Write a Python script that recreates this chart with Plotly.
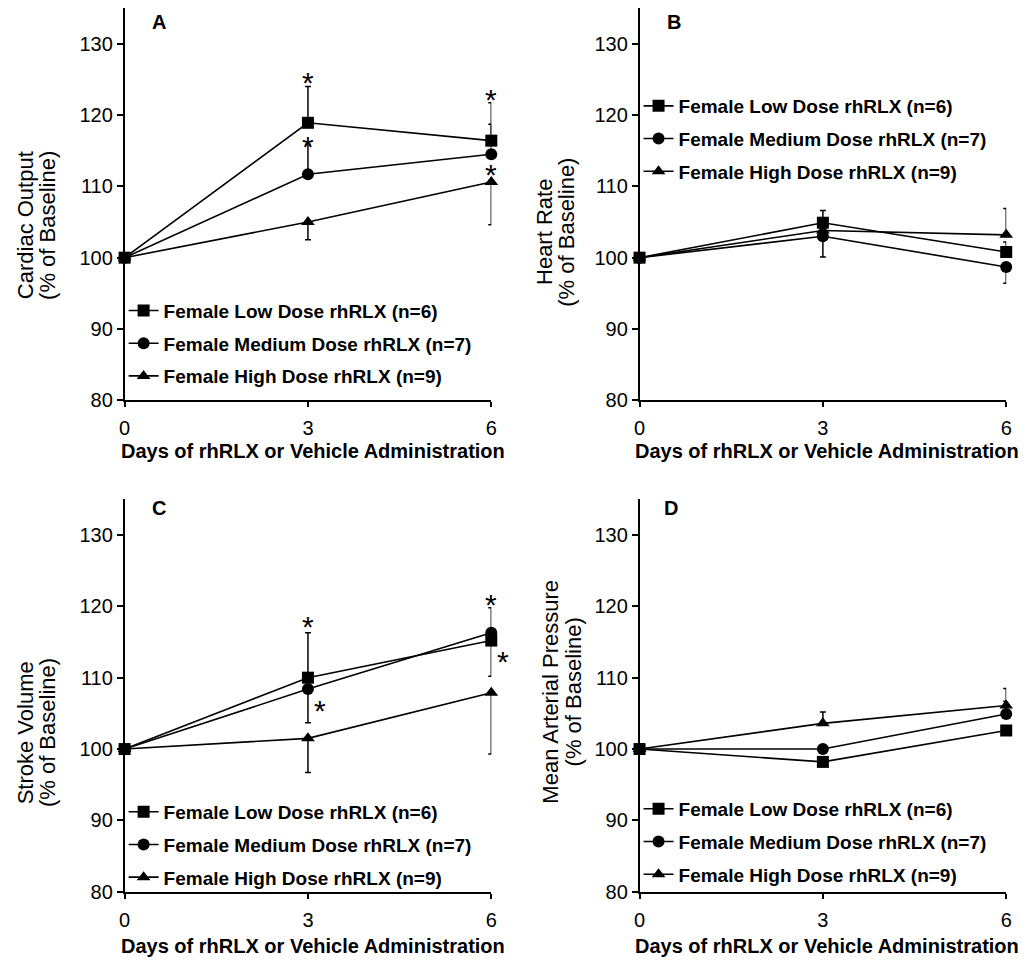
import plotly.graph_objects as go

W, H = 1031, 970

days = [0, 3, 6]
x_ticks = [0, 3, 6]
y_ticks = [80, 90, 100, 110, 120, 130]

series_names = ["Female Low Dose rhRLX (n=6)",
                "Female Medium Dose rhRLX (n=7)",
                "Female High Dose rhRLX (n=9)"]
symbols = ["square", "circle", "triangle-up"]

# Panel A - Cardiac Output
A_low = [100, 118.9, 116.4]
A_low_up = [0, 5.1, 5.3]
A_low_dn = [0, 0, 0]
A_med = [100, 111.7, 114.5]
A_med_up = [0, 4.2, 4.2]
A_med_dn = [0, 0, 0]
A_high = [100, 105.0, 110.6]
A_high_up = [0, 0, 0]
A_high_dn = [0, 2.5, 6.0]
A_star_x = [3, 3, 6, 6]
A_star_y = [125.8, 116.8, 123.4, 112.9]
A_star_dx = [0, 0, 0, 0]

# Panel B - Heart Rate
B_low = [100, 104.9, 100.8]
B_low_up = [0, 1.7, 1.4]
B_low_dn = [0, 0, 0]
B_med = [100, 103.0, 98.7]
B_med_up = [0, 0, 0]
B_med_dn = [0, 2.9, 2.3]
B_high = [100, 103.8, 103.2]
B_high_up = [0, 0, 3.7]
B_high_dn = [0, 0, 0]

# Panel C - Stroke Volume
C_low = [100, 110.0, 115.2]
C_low_up = [0, 6.3, 0]
C_low_dn = [0, 0, 5.0]
C_med = [100, 108.4, 116.3]
C_med_up = [0, 0, 3.5]
C_med_dn = [0, 4.7, 0]
C_high = [100, 101.5, 107.9]
C_high_up = [0, 0, 0]
C_high_dn = [0, 4.8, 8.6]
C_star_x = [3, 3, 6, 6]
C_star_y = [118.4, 106.7, 121.5, 113.5]
C_star_dx = [0, 12, 0, 12]

# Panel D - Mean Arterial Pressure
D_low = [100, 98.2, 102.6]
D_low_up = [0, 0, 0]
D_low_dn = [0, 0, 0]
D_med = [100, 100.0, 104.9]
D_med_up = [0, 0, 1.8]
D_med_dn = [0, 0, 0]
D_high = [100, 103.6, 106.1]
D_high_up = [0, 1.6, 2.4]
D_high_dn = [0, 0, 0]

panels = [
    dict(key="A", title=["Cardiac Output", "(% of Baseline)"],
         data=[(A_low, A_low_up, A_low_dn), (A_med, A_med_up, A_med_dn), (A_high, A_high_up, A_high_dn)],
         stars=(A_star_x, A_star_y, A_star_dx)),
    dict(key="B", title=["Heart Rate", "(% of Baseline)"],
         data=[(B_low, B_low_up, B_low_dn), (B_med, B_med_up, B_med_dn), (B_high, B_high_up, B_high_dn)],
         stars=None),
    dict(key="C", title=["Stroke Volume", "(% of Baseline)"],
         data=[(C_low, C_low_up, C_low_dn), (C_med, C_med_up, C_med_dn), (C_high, C_high_up, C_high_dn)],
         stars=(C_star_x, C_star_y, C_star_dx)),
    dict(key="D", title=["Mean Arterial Pressure", "(% of Baseline)"],
         data=[(D_low, D_low_up, D_low_dn), (D_med, D_med_up, D_med_dn), (D_high, D_high_up, D_high_dn)],
         stars=None),
]

# layout geometry in pixels
px_x = [(120, 491), (641, 1012), (120, 491), (641, 1012)]
px_y = [(8, 405), (8, 405), (505, 902), (505, 902)]
legend_pos = [(119, 295), (640, 88), (119, 802), (640, 799)]
letter_pos = [(155, 22), (676, 22), (155, 514), (673, 514)]
ytitle_x = [(20, 42), (545, 567), (20, 42), (550, 574)]
ytitle_y = [228, 235, 741, 700]
xtitle_pos = [(311, 456), (831, 456), (311, 957), (831, 957)]

FONT = "Liberation Sans, Arial, sans-serif"

fig = go.Figure()
layout = dict(
    width=W, height=H, margin=dict(l=0, r=0, t=0, b=0),
    paper_bgcolor="white", plot_bgcolor="white",
    font=dict(family=FONT, color="black"),
    showlegend=True,
)
annotations = []

for i, p in enumerate(panels):
    n = i + 1
    xa = "x" if n == 1 else f"x{n}"
    ya = "y" if n == 1 else f"y{n}"
    lg = "legend" if n == 1 else f"legend{n}"
    x0, x1 = px_x[i]
    y0, y1 = px_y[i]
    axis_common = dict(showgrid=False, zeroline=False, showline=True, linecolor="black",
                       linewidth=1.5, ticks="outside", tickcolor="black", tickwidth=1.5,
                       tickfont=dict(family=FONT, size=20, color="black"))
    layout["xaxis" if n == 1 else f"xaxis{n}"] = dict(
        domain=[x0 / W, x1 / W], anchor=ya, range=[0, 6], tickvals=x_ticks,
        ticklen=5, ticklabelstandoff=4, **axis_common)
    layout["yaxis" if n == 1 else f"yaxis{n}"] = dict(
        domain=[1 - y1 / H, 1 - y0 / H], anchor=xa, range=[80, 135], tickvals=y_ticks,
        ticklen=6, **axis_common)
    lx, ly = legend_pos[i]
    layout[lg] = dict(x=lx / W, y=1 - ly / H, xanchor="left", yanchor="top",
                      xref="paper", yref="paper", bgcolor="rgba(0,0,0,0)",
                      font=dict(family=FONT, size=19, color="black", weight="bold"),
                      itemwidth=30, tracegroupgap=5, traceorder="grouped")
    # draw high first so square on top
    for j in [2, 1, 0]:
        yv, up, dn = p["data"][j]
        fig.add_trace(go.Scatter(
            x=days, y=yv, mode="lines+markers", name=series_names[j],
            xaxis=xa, yaxis=ya, legend=lg, legendgroup=f"{p['key']}{j}", legendrank=j + 1,
            line=dict(color="black", width=1.6),
            marker=dict(symbol=symbols[j], size=12, color="black"),
            error_y=dict(type="data", symmetric=False, array=up, arrayminus=dn,
                         color="black", thickness=1.5, width=3),
            cliponaxis=False, showlegend=True,
        ))
    if p["stars"]:
        sx, sy, sdx = p["stars"]
        for a, b, d in zip(sx, sy, sdx):
            annotations.append(dict(x=a, y=b, xref=xa, yref=ya, text="*", showarrow=False,
                                    font=dict(family=FONT, size=30, color="black"),
                                    xshift=d, yshift=-9, xanchor="center", yanchor="middle"))
    # panel letter
    lx2, ly2 = letter_pos[i]
    annotations.append(dict(x=lx2 / W, y=1 - ly2 / H, xref="paper", yref="paper", text=p["key"],
                            showarrow=False, xanchor="center", yanchor="middle",
                            font=dict(family=FONT, size=20, color="black", weight="bold")))
    for k, line_text in enumerate(p["title"]):
        annotations.append(dict(x=ytitle_x[i][k] / W, y=1 - ytitle_y[i] / H, xref="paper", yref="paper",
                                text=line_text, showarrow=False, textangle=-90,
                                xanchor="center", yanchor="middle",
                                font=dict(family=FONT, size=22, color="black")))
    xx, xy = xtitle_pos[i]
    annotations.append(dict(x=xx / W, y=1 - xy / H, xref="paper", yref="paper",
                            text="Days of rhRLX or Vehicle Administration",
                            showarrow=False, xanchor="center", yanchor="middle",
                            font=dict(family=FONT, size=20, color="black", weight="bold")))

layout["annotations"] = annotations
fig.update_layout(**layout)
fig.write_html("out.html")
